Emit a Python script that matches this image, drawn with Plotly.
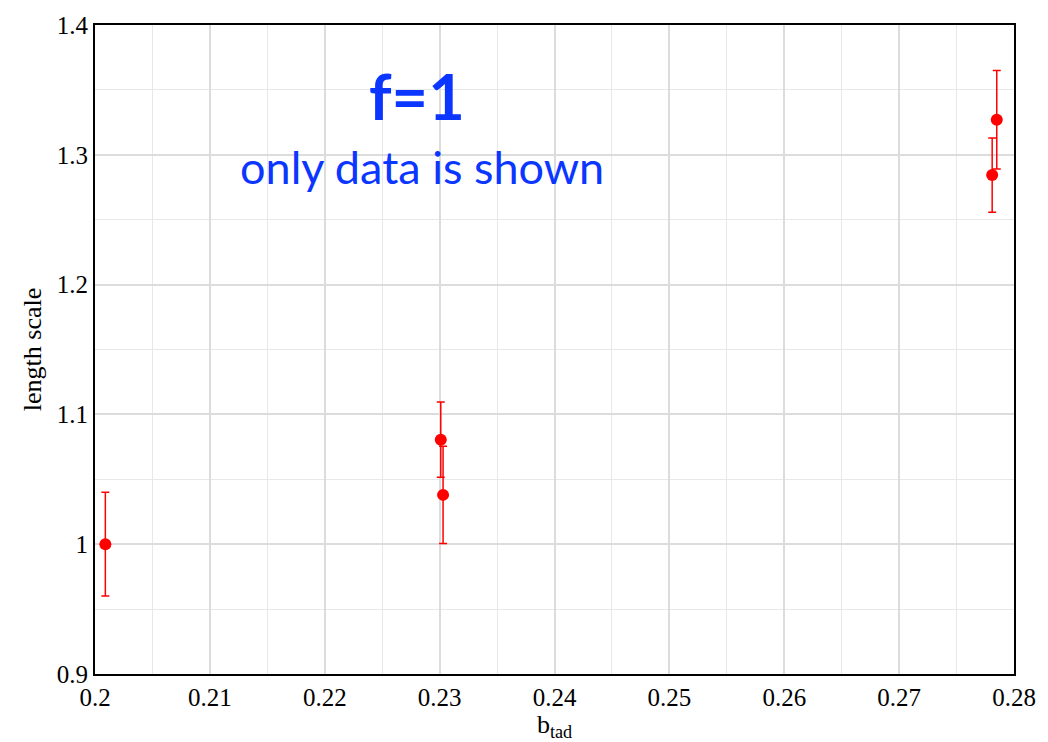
import plotly.graph_objects as go

# measured length scale versus b_tad (f = 1)
b_tad = [0.2009, 0.2301, 0.2303, 0.2785, 0.2781]
length_scale = [1.000, 1.0805, 1.038, 1.327, 1.2844]
length_err = [0.040, 0.029, 0.0375, 0.038, 0.0286]

x_ticks = [0.20, 0.21, 0.22, 0.23, 0.24, 0.25, 0.26, 0.27, 0.28]
x_tick_text = ["0.2", "0.21", "0.22", "0.23", "0.24", "0.25", "0.26", "0.27", "0.28"]
y_ticks = [0.9, 1.0, 1.1, 1.2, 1.3, 1.4]
y_tick_text = ["0.9", "1", "1.1", "1.2", "1.3", "1.4"]

RED = "#ff0000"
BLUE = "#0a36ff"
SERIF = "Liberation Serif"

fig = go.Figure()
fig.add_trace(go.Scatter(
    x=b_tad, y=length_scale, mode="markers",
    marker=dict(color=RED, size=12, symbol="circle"),
    error_y=dict(type="data", array=length_err, visible=True,
                 color=RED, thickness=1.5, width=4),
    showlegend=False,
))

fig.add_annotation(x=0.228, y=1.346, xref="x", yref="y", text="<b>f=1</b>",
                   showarrow=False, font=dict(family="Lato", size=63, color=BLUE))
fig.add_annotation(x=0.2285, y=1.2907, xref="x", yref="y", text="only data is shown",
                   showarrow=False, font=dict(family="Lato", size=45, color=BLUE))

fig.update_xaxes(
    range=[0.2, 0.28], tickvals=x_ticks, ticktext=x_tick_text,
    showgrid=True, gridcolor="#dcdcdc", gridwidth=2,
    minor=dict(dtick=0.005, showgrid=True, gridcolor="#e8e8e8", gridwidth=1, ticks=""),
    showline=True, linecolor="black", linewidth=2, mirror=True,
    ticks="", zeroline=False,
    tickfont=dict(family=SERIF, size=25, color="black"),
    title=dict(text="b<sub>tad</sub>", font=dict(family=SERIF, size=26, color="black"), standoff=0),
)
fig.update_yaxes(
    range=[0.9, 1.4], tickvals=y_ticks, ticktext=y_tick_text,
    showgrid=True, gridcolor="#dcdcdc", gridwidth=2,
    minor=dict(dtick=0.05, showgrid=True, gridcolor="#e8e8e8", gridwidth=1, ticks=""),
    showline=True, linecolor="black", linewidth=2, mirror=True,
    ticks="", zeroline=False,
    tickfont=dict(family=SERIF, size=25, color="black"),
    title=dict(text="length scale", font=dict(family=SERIF, size=26, color="black"), standoff=8),
)

fig.update_layout(
    width=1048, height=742,
    margin=dict(l=95, r=26, t=25, b=68),
    plot_bgcolor="white", paper_bgcolor="white",
)

fig.write_html("out.html")
